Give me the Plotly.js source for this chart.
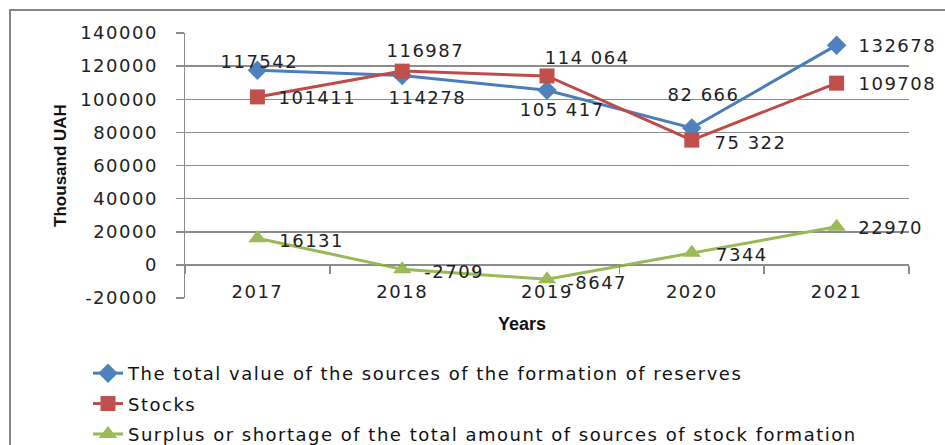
<!DOCTYPE html>
<html>
<head>
<meta charset="utf-8">
<script src="https://cdn.plot.ly/plotly-3.0.1.min.js"></script>
<style>
html,body{margin:0;padding:0;background:#fff;}
#chart{width:945px;height:445px;}
#chart g.ytick text, #chart g.xtick text, #chart text.annotation-text.num {letter-spacing:1.5px;}
text.legendtext {letter-spacing:1.5px;}
</style>
</head>
<body>
<div id="chart"></div>
<script>
// ---- data ----
const years = ['2017', '2018', '2019', '2020', '2021'];
const totalSources = [117542, 114278, 105417, 82666, 132678];
const stocks = [101411, 116987, 114064, 75322, 109708];
const surplus = [16131, -2709, -8647, 7344, 22970];
const totalLabels = ['117542', '114278', '105 417', '82 666', '132678'];
const stockLabels = ['101411', '116987', '114 064', '75 322', '109708'];
const surplusLabels = ['16131', '-2709', '-8647', '7344', '22970'];
const yTickVals = [-20000, 0, 20000, 40000, 60000, 80000, 100000, 120000, 140000];
const yTickText = ['-20000', '0', '20000', '40000', '60000', '80000', '100000', '120000', '140000'];
const seriesNames = [
  'The total value of the sources of the formation of reserves',
  'Stocks',
  'Surplus or shortage of the total amount of sources of stock formation'
];

// ---- style ----
const numFont = {family: 'DejaVu Sans, Verdana, sans-serif', size: 18, color: '#222'};
const gridCol = '#8c8c8c';
const yMin = -20000, yMax = 140000;

// label placement: [xanchor, xshift, yshift]
const totalPos = [['center', 2, 9], ['center', 25, -22], ['center', 15, -19], ['center', 12, 33], ['left', 24, 0]];
const stockPos = [['left', 24, -1], ['center', 23, 21], ['left', 1, 18], ['left', 25, -2], ['left', 24, 0]];
const surplusPos = [['left', 24, -2], ['left', 24, -2], ['left', 22, -3], ['left', 25, -2], ['left', 23, -1]];

const traces = [
  {x: years, y: totalSources, name: seriesNames[0], legendgroup: 'a', type: 'scatter', mode: 'lines+markers',
   line: {color: '#4A7EBB', width: 3}, marker: {symbol: 'diamond', size: 15, color: '#4F81BD'}},
  {x: years, y: stocks, name: seriesNames[1], legendgroup: 'b', type: 'scatter', mode: 'lines+markers',
   line: {color: '#BE4B48', width: 3}, marker: {symbol: 'square', size: 15, color: '#C0504D'}},
  {x: years, y: surplus, name: seriesNames[2], legendgroup: 'c', type: 'scatter', mode: 'lines+markers',
   line: {color: '#98B954', width: 3}, marker: {symbol: 'triangle-up', size: 16, color: '#9BBB59'}}
];

function labelAnns(vals, texts, pos) {
  // x given as the category index on the category axis
  return vals.map((v, i) => ({
    x: years.indexOf(years[i]), y: v, xref: 'x', yref: 'y', text: texts[i], showarrow: false,
    xanchor: pos[i][0], yanchor: 'middle', xshift: pos[i][1], yshift: pos[i][2],
    font: numFont
  }));
}

const annotations = [].concat(
  labelAnns(totalSources, totalLabels, totalPos),
  labelAnns(stocks, stockLabels, stockPos),
  labelAnns(surplus, surplusLabels, surplusPos),
  [{text: '<b>Years</b>', xref: 'paper', yref: 'paper', x: 0.4655, y: -0.098,
    showarrow: false, xanchor: 'center', yanchor: 'middle',
    font: {family: 'Liberation Sans, Arial, sans-serif', size: 18, color: '#111'}}]
);

const layout = {
  width: 945, height: 445,
  margin: {l: 185, r: 36, t: 33, b: 147, autoexpand: false},
  paper_bgcolor: '#fff', plot_bgcolor: '#fff',
  showlegend: true,
  legend: {orientation: 'v', x: -0.134, y: -0.215, xanchor: 'left', yanchor: 'top',
    traceorder: 'grouped', tracegroupgap: 4,
    font: {family: 'DejaVu Sans, sans-serif', size: 18, color: '#111'},
    bgcolor: 'rgba(0,0,0,0)'},
  xaxis: {type: 'category', range: [-0.5, 4.5], anchor: 'free',
    position: (0 - yMin) / (yMax - yMin),
    showline: true, linecolor: gridCol, linewidth: 1.5,
    ticks: 'outside', tickson: 'boundaries', ticklen: 8, tickcolor: gridCol, tickwidth: 1.5,
    tickfont: numFont, ticklabelstandoff: 10, showgrid: false, zeroline: false, fixedrange: true},
  yaxis: {range: [yMin, yMax], tickvals: yTickVals, ticktext: yTickText,
    showgrid: true, gridcolor: gridCol, gridwidth: 1.5, zeroline: false,
    showline: true, linecolor: gridCol, linewidth: 1.5,
    ticks: 'outside', ticklen: 8, tickcolor: gridCol, tickwidth: 1.5,
    tickfont: numFont, ticklabelstandoff: 14, fixedrange: true,
    title: {text: '<b>Thousand UAH</b>', standoff: 18,
      font: {family: 'Liberation Sans, Arial, sans-serif', size: 17, color: '#111'}}},
  shapes: [{type: 'rect', xref: 'paper', yref: 'paper',
    x0: (10 - 185) / 724, x1: (950 - 185) / 724, y0: (298 - 455) / 265, y1: (298 - 10) / 265,
    line: {color: '#868686', width: 2}, fillcolor: 'rgba(0,0,0,0)', layer: 'below'}],
  annotations: annotations
};

Plotly.newPlot('chart', traces, layout, {displayModeBar: false, staticPlot: true}).then(gd => {
  // mark numeric data-label annotations for letter-spacing styling
  gd.querySelectorAll('g.annotation').forEach((g, i) => {
    if (i < 15) { const t = g.querySelector('text.annotation-text'); if (t) t.classList.add('num'); }
  });
});
</script>
</body>
</html>
